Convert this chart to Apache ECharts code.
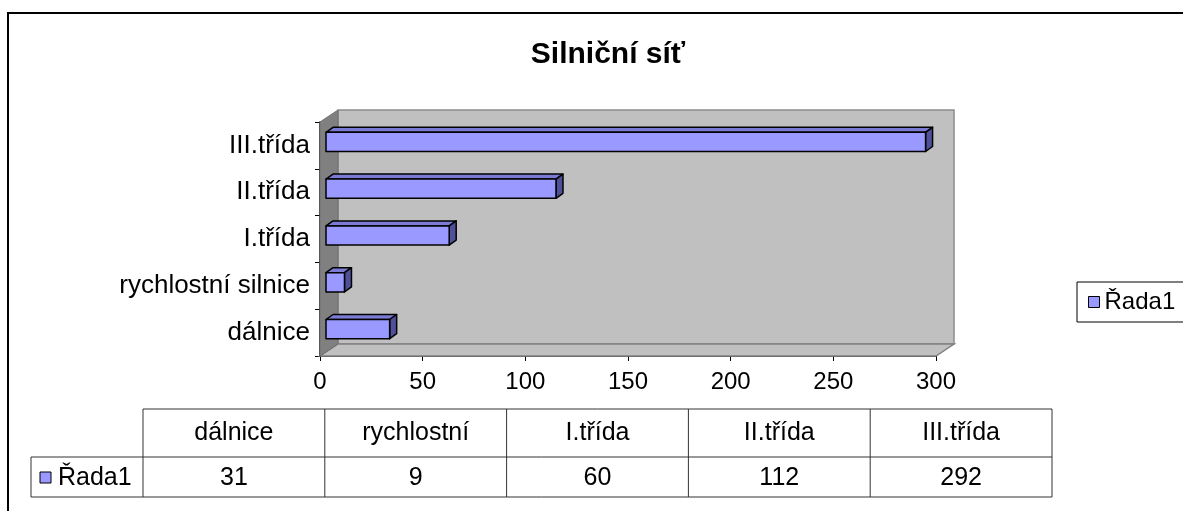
<!DOCTYPE html>
<html>
<head>
<meta charset="utf-8">
<script src="https://cdn.jsdelivr.net/npm/echarts@6/dist/echarts.min.js"></script>
<style>
  html, body { margin: 0; padding: 0; background: #fff; }
  #chart { width: 1183px; height: 511px; }
</style>
</head>
<body>
<div id="chart"></div>
<script>
const categories = ['dálnice', 'rychlostní silnice', 'I.třída', 'II.třída', 'III.třída'];
const tableLabels = ['dálnice', 'rychlostní', 'I.třída', 'II.třída', 'III.třída'];
const values = [31, 9, 60, 112, 292];
const seriesName = 'Řada1';
const titleText = 'Silniční síť';

const FONT = '"Liberation Sans", Arial, sans-serif';
const BAR_COLOR = '#9999ff';
const DEPTH = [18, -12];

const chart = echarts.init(document.getElementById('chart'));

// back wall, side wall and floor of the 3d box, from the grid rect
function renderWalls(params, api) {
  const r = params.coordSys;
  const dx = DEPTH[0], dy = DEPTH[1];
  const x0 = r.x, y0 = r.y, x1 = r.x + r.width, y1 = r.y + r.height;
  return {
    type: 'group',
    children: [
      {
        type: 'polygon',
        shape: { points: [[x0 + dx, y0 + dy], [x1 + dx, y0 + dy], [x1 + dx, y1 + dy], [x0 + dx, y1 + dy]] },
        style: { fill: '#c0c0c0', stroke: '#8c8c8c', lineWidth: 1.5 }
      },
      {
        type: 'polygon',
        shape: { points: [[x0, y1], [x0 + dx, y1 + dy], [x1 + dx, y1 + dy], [x1, y1]] },
        style: { fill: '#c0c0c0', stroke: '#808080', lineWidth: 1.5 }
      },
      {
        type: 'polygon',
        shape: { points: [[x0, y0], [x0 + dx, y0 + dy], [x0 + dx, y1 + dy], [x0, y1]] },
        style: { fill: '#808080', stroke: '#707070', lineWidth: 1 }
      }
    ]
  };
}

// one 3d bar: front, top and right faces
function renderBar(params, api) {
  const v = api.value(0), i = api.value(1);
  const p0 = api.coord([0, i]);
  const p1 = api.coord([v, i]);
  const band = api.size([0, 1])[1];
  const h = band * 0.41;
  const fx = 6, fy = -3.5;
  const bx = 7, by = -5;
  const left = p0[0] + fx, right = p1[0] + fx;
  const top = p0[1] + fy - h / 2, bottom = p0[1] + fy + h / 2;
  const line = { stroke: '#000', lineWidth: 1.5, lineJoin: 'round' };
  return {
    type: 'group',
    children: [
      {
        type: 'polygon',
        shape: { points: [[left, top], [left + bx, top + by], [right + bx, top + by], [right, top]] },
        style: Object.assign({ fill: '#7b7bd6' }, line)
      },
      {
        type: 'polygon',
        shape: { points: [[right, top], [right + bx, top + by], [right + bx, bottom + by], [right, bottom]] },
        style: Object.assign({ fill: '#50509a' }, line)
      },
      {
        type: 'rect',
        shape: { x: left, y: top, width: right - left, height: h },
        style: Object.assign({ fill: BAR_COLOR }, line)
      }
    ]
  };
}

// data table under the chart
const tbl = { left: 31, x0: 143, colW: 181.8, top: 409, mid: 457, bottom: 497 };
const tableEls = [];
const tLine = { stroke: '#333', lineWidth: 1 };
const xEnd = tbl.x0 + tbl.colW * tableLabels.length;
tableEls.push({ type: 'line', shape: { x1: tbl.x0, y1: tbl.top, x2: xEnd, y2: tbl.top }, style: tLine });
tableEls.push({ type: 'line', shape: { x1: tbl.left, y1: tbl.mid, x2: xEnd, y2: tbl.mid }, style: tLine });
tableEls.push({ type: 'line', shape: { x1: tbl.left, y1: tbl.bottom, x2: xEnd, y2: tbl.bottom }, style: tLine });
tableEls.push({ type: 'line', shape: { x1: tbl.left, y1: tbl.mid, x2: tbl.left, y2: tbl.bottom }, style: tLine });
for (let c = 0; c <= tableLabels.length; c++) {
  const x = tbl.x0 + c * tbl.colW;
  tableEls.push({ type: 'line', shape: { x1: x, y1: tbl.top, x2: x, y2: tbl.bottom }, style: tLine });
}
for (let c = 0; c < tableLabels.length; c++) {
  const cx = tbl.x0 + (c + 0.5) * tbl.colW;
  tableEls.push({
    type: 'text', x: cx, y: (tbl.top + tbl.mid) / 2,
    style: { text: tableLabels[c], font: '25px ' + FONT, fill: '#000', align: 'center', verticalAlign: 'middle' }
  });
  tableEls.push({
    type: 'text', x: cx, y: (tbl.mid + tbl.bottom) / 2 + 1,
    style: { text: String(values[c]), font: '25px ' + FONT, fill: '#000', align: 'center', verticalAlign: 'middle' }
  });
}
tableEls.push({
  type: 'rect', shape: { x: 40, y: 472, width: 11, height: 11 },
  style: { fill: BAR_COLOR, stroke: '#000', lineWidth: 1 }
});
tableEls.push({
  type: 'text', x: 58, y: (tbl.mid + tbl.bottom) / 2 + 1,
  style: { text: seriesName, font: '25px ' + FONT, fill: '#000', align: 'left', verticalAlign: 'middle' }
});

const option = {
  animation: false,
  backgroundColor: '#fff',
  grid: { left: 320, top: 122, width: 616, height: 234 },
  legend: {
    data: [seriesName],
    left: 1077, top: 282,
    orient: 'vertical',
    borderColor: '#000', borderWidth: 1,
    padding: [8, 10, 8, 11],
    icon: 'rect', itemWidth: 11, itemHeight: 11,
    itemStyle: { borderColor: '#000', borderWidth: 1 },
    textStyle: { fontFamily: FONT, fontSize: 24, color: '#000' },
    selectedMode: false
  },
  xAxis: {
    type: 'value', min: 0, max: 300, interval: 50,
    axisLine: { show: true, lineStyle: { color: '#000', width: 1.5 } },
    axisTick: { show: true, length: 5, lineStyle: { color: '#000' } },
    splitLine: { show: false },
    axisLabel: { margin: 14, fontFamily: FONT, fontSize: 24, color: '#000' }
  },
  yAxis: {
    type: 'category', data: categories,
    axisLine: { show: true, lineStyle: { color: '#000', width: 1.5 } },
    axisTick: { show: true, length: 5, lineStyle: { color: '#000' } },
    axisLabel: { margin: 10, fontFamily: FONT, fontSize: 26, color: '#000' }
  },
  series: [
    {
      name: 'walls', type: 'custom', z: 1, silent: true,
      renderItem: renderWalls, data: [[0, 0]], clip: false
    },
    {
      name: seriesName, type: 'custom', z: 2,
      itemStyle: { color: BAR_COLOR },
      renderItem: renderBar,
      encode: { x: 0, y: 1 },
      data: values.map((v, i) => [v, i]),
      clip: false
    }
  ],
  graphic: [
    {
      type: 'rect', shape: { x: 8, y: 13, width: 1200, height: 520 },
      style: { fill: 'none', stroke: '#000', lineWidth: 2 }, z: -1
    },
    {
      type: 'text', x: 608, y: 55,
      style: { text: titleText, font: 'bold 30px ' + FONT, fill: '#000', align: 'center', verticalAlign: 'middle' }
    }
  ].concat(tableEls)
};

chart.setOption(option);
</script>
</body>
</html>
